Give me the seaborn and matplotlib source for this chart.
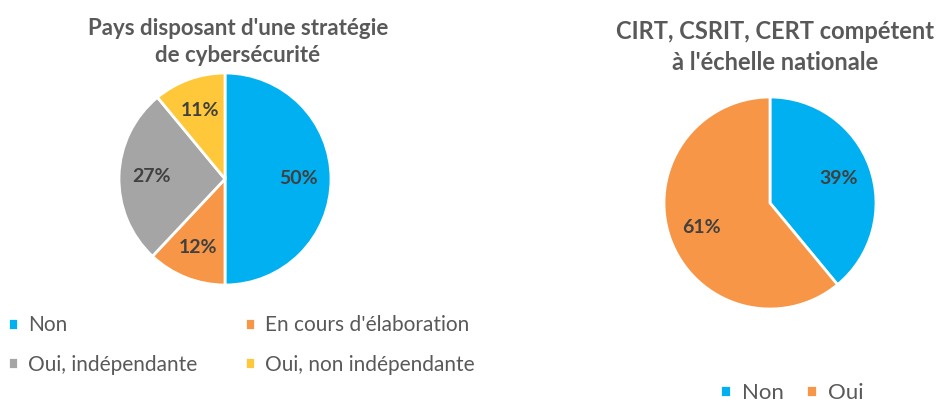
import matplotlib
matplotlib.use("Agg")
import matplotlib.pyplot as plt
import seaborn as sns

# ---- data ----
left_labels = ["Non", "En cours d'élaboration", "Oui, indépendante", "Oui, non indépendante"]
left_values = [50, 12, 27, 11]
left_colors = ["#00B0F0", "#F79646", "#A5A5A5", "#FFC83A"]

right_labels = ["Non", "Oui"]
right_values = [39, 61]
right_colors = ["#00B0F0", "#F79646"]

left_title = "Pays disposant d'une stratégie\nde cybersécurité"
right_title = "CIRT, CSRIT, CERT compétent\nà l'échelle nationale"

sns.set_theme(style="white")
plt.rcParams['font.family'] = ['Lato', 'DejaVu Sans']

W, H = 941, 403
fig = plt.figure(figsize=(W / 100, H / 100), dpi=100)
fig.patch.set_facecolor("white")

text_col = "#595959"
lab_col = "#404040"


def pie_axes(cx, cy, r):
    # pixel centre/radius -> figure fraction axes
    ax = fig.add_axes([(cx - r) / W, (H - cy - r) / H, 2 * r / W, 2 * r / H])
    return ax


def draw_pie(ax, values, colors):
    wedges, _, autotexts = ax.pie(values, colors=colors, startangle=90, counterclock=False,
                                  radius=1, autopct="%d%%", pctdistance=0.69,
                                  wedgeprops=dict(edgecolor="white", linewidth=2))
    for t in autotexts:
        t.set_color(lab_col)
        t.set_fontsize(14)
        t.set_fontweight("bold")
    ax.set_xlim(-1, 1)
    ax.set_ylim(-1, 1)
    ax.set_aspect("equal")
    ax.axis("off")
    return wedges


# ---- left pie ----
ax1 = pie_axes(225, 179, 106)
w1 = draw_pie(ax1, left_values, left_colors)
fig.text(238 / W, 1 - 42 / H, left_title, ha="center", va="center", fontsize=16,
         fontweight="bold", color=text_col, linespacing=1.3)
# legend filled row by row
order = [0, 2, 1, 3]
fig.legend([w1[i] for i in order], [left_labels[i] for i in order], loc="upper left",
           bbox_to_anchor=(8 / W, 1 - 315 / H), ncol=2, borderpad=0, borderaxespad=0,
           frameon=False, fontsize=15, handlelength=0.5, handleheight=0.5, handletextpad=0.45,
           columnspacing=2.3, labelspacing=0.95, labelcolor=text_col)

# ---- right pie ----
ax2 = pie_axes(770, 203, 106)
w2 = draw_pie(ax2, right_values, right_colors)
fig.text(775 / W, 1 - 47 / H, right_title, ha="center", va="center", fontsize=17,
         fontweight="bold", color=text_col, linespacing=1.4)
fig.legend(w2, right_labels, loc="center", bbox_to_anchor=(792 / W, 1 - 393 / H), ncol=2,
           frameon=False, fontsize=16, handlelength=0.5, handleheight=0.5, handletextpad=0.5,
           columnspacing=1.0, labelcolor=text_col)

fig.savefig("out.png", dpi=100, facecolor="white")
